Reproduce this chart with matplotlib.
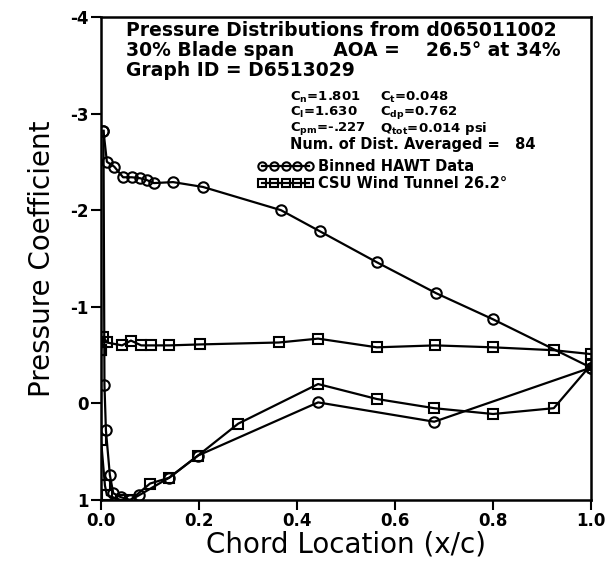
import numpy as np
import matplotlib
matplotlib.use("Agg")
import matplotlib.pyplot as plt

plt.rcParams['font.family'] = ['DejaVu Sans']
plt.rcParams['axes.unicode_minus'] = False
plt.rcParams['mathtext.default'] = 'bf'

# Binned HAWT data (circles)
hawt_upper_x = [0.005, 0.012, 0.027, 0.045, 0.063, 0.080, 0.094, 0.108, 0.147, 0.208,
                0.367, 0.447, 0.563, 0.684, 0.800, 1.000]
hawt_upper_cp = [-2.82, -2.50, -2.45, -2.34, -2.34, -2.33, -2.31, -2.28, -2.29, -2.24,
                 -2.00, -1.78, -1.46, -1.14, -0.87, -0.37]
hawt_lower_x = [0.005, 0.007, 0.010, 0.018, 0.025, 0.040, 0.060, 0.078, 0.139, 0.198,
                0.443, 0.680, 1.000]
hawt_lower_cp = [-2.82, -0.19, 0.28, 0.74, 0.93, 0.97, 1.00, 0.95, 0.77, 0.54,
                 -0.01, 0.19, -0.37]

# CSU wind tunnel 26.2 deg (squares)
csu_upper_x = [0.000, 0.005, 0.012, 0.043, 0.061, 0.082, 0.102, 0.139, 0.202, 0.363,
               0.443, 0.563, 0.682, 0.800, 0.924, 1.000]
csu_upper_cp = [-0.55, -0.69, -0.63, -0.60, -0.65, -0.60, -0.60, -0.60, -0.61, -0.63,
                -0.67, -0.58, -0.60, -0.58, -0.55, -0.51]
csu_lower_x = [0.000, 0.000, 0.008, 0.012, 0.040, 0.060, 0.100, 0.139, 0.198, 0.280,
               0.443, 0.563, 0.680, 0.800, 0.924, 1.000]
csu_lower_cp = [-0.55, 0.38, 0.85, 0.95, 1.00, 1.00, 0.83, 0.77, 0.54, 0.21,
                -0.20, -0.045, 0.05, 0.11, 0.05, -0.40]

x_ticks = [0.0, 0.2, 0.4, 0.6, 0.8, 1.0]
y_ticks = [-4, -3, -2, -1, 0, 1]

header = ["Pressure Distributions from d065011002",
          "30% Blade span      AOA =    26.5\u00b0 at 34%",
          "Graph ID = D6513029"]
coef_col1 = ["C$_n$=1.801", "C$_l$=1.630", "C$_{pm}$=-.227"]
coef_col2 = ["C$_t$=0.048", "C$_{dp}$=0.762", "Q$_{tot}$=0.014 psi"]
avg_line = "Num. of Dist. Averaged =   84"

fig = plt.figure(figsize=(6.06, 5.67), dpi=100)
ax = fig.add_axes([0.1667, 0.1182, 0.8086, 0.852])

lw = 1.6
circ = dict(marker='o', markersize=7.5, markerfacecolor='none', markeredgecolor='black',
            markeredgewidth=1.5, color='black', linewidth=lw)
sq = dict(marker='s', markersize=6.5, markerfacecolor='none', markeredgecolor='black',
          markeredgewidth=1.5, color='black', linewidth=lw)

h1, = ax.plot(hawt_upper_x, hawt_upper_cp, **circ)
ax.plot(hawt_lower_x, hawt_lower_cp, **circ)
h2, = ax.plot(csu_upper_x, csu_upper_cp, **sq)
ax.plot(csu_lower_x, csu_lower_cp, **sq)

ax.set_xlim(0, 1.0)
ax.set_ylim(1, -4)
ax.set_xticks(x_ticks)
ax.set_xticklabels([f"{v:.1f}" for v in x_ticks], fontweight='bold', fontsize=12)
ax.set_yticks(y_ticks)
ax.set_yticklabels([str(v) for v in y_ticks], fontweight='bold', fontsize=12)
ax.tick_params(direction='out', length=7, width=1.5, pad=2)
for s in ax.spines.values():
    s.set_linewidth(1.8)

ax.set_xlabel("Chord Location (x/c)", fontsize=20, labelpad=0)
ax.set_ylabel("Pressure Coefficient", fontsize=20, labelpad=10)

for i, line in enumerate(header):
    ax.text(0.051, 0.971 - i * 0.041, line, transform=ax.transAxes, fontsize=13.5,
            fontweight='bold', va='center', ha='left')
for i in range(3):
    ax.text(0.386, 0.834 - i * 0.032, coef_col1[i], transform=ax.transAxes, fontsize=9.5,
            fontweight='bold', va='center', ha='left')
    ax.text(0.57, 0.834 - i * 0.032, coef_col2[i], transform=ax.transAxes, fontsize=9.5,
            fontweight='bold', va='center', ha='left')
ax.text(0.386, 0.736, avg_line, transform=ax.transAxes, fontsize=10.5,
        fontweight='bold', va='center', ha='left')

leg = ax.legend([h1, h2], ["Binned HAWT Data", "CSU Wind Tunnel 26.2\u00b0"],
                loc='upper left', bbox_to_anchor=(0.32, 0.706), frameon=False,
                numpoints=5, handlelength=3.8, handletextpad=0.3, markerscale=0.8,
                borderpad=0, borderaxespad=0, labelspacing=0.15,
                prop=dict(size=10.5, weight='bold'))

fig.savefig("out.png", dpi=100)
